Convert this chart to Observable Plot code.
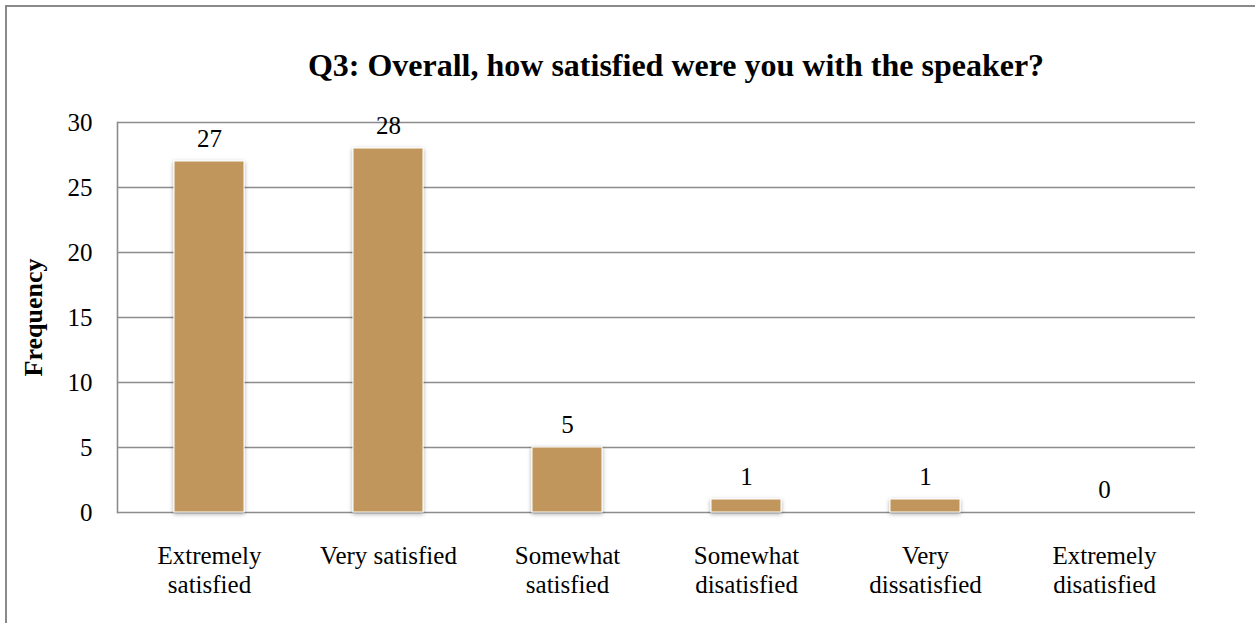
<!DOCTYPE html>
<html><head><meta charset="utf-8">
<script src="https://cdn.jsdelivr.net/npm/d3@7"></script>
<script src="https://cdn.jsdelivr.net/npm/@observablehq/plot@0.6"></script>
<style>
body{margin:0;background:#fff;}
#wrap{position:relative;width:1255px;height:623px;overflow:hidden;background:#fff;font-family:"Liberation Serif","Times New Roman",serif;}
#border{position:absolute;left:5px;top:5px;width:1300px;height:700px;border:2px solid #8a8a8a;box-sizing:border-box;}
#title{position:absolute;top:49px;left:676px;transform:translateX(-50%);white-space:nowrap;font-weight:bold;font-size:32px;line-height:32px;color:#000;}
#chart{position:absolute;left:0;top:0;}
</style></head><body>
<div id="wrap"><div id="border"></div><div id="title"></div><div id="chart"></div></div>
<script>
const titleText = "Q3: Overall, how satisfied were you with the speaker?";
const yLabel = "Frequency";
const categories = ["Extremely\nsatisfied", "Very satisfied", "Somewhat\nsatisfied", "Somewhat\ndisatisfied", "Very\ndissatisfied", "Extremely\ndisatisfied"];
const frequencies = [27, 28, 5, 1, 1, 0];
const yTicks = [0, 5, 10, 15, 20, 25, 30];

document.getElementById("title").textContent = titleText;
const data = categories.map((c, i) => ({category: c, value: frequencies[i]}));

const chart = Plot.plot({
  width: 1255, height: 623,
  marginLeft: 117, marginRight: 60, marginTop: 122, marginBottom: 111,
  style: {fontFamily: "'Liberation Serif', 'Times New Roman', serif", fontSize: "25px", color: "#000", background: "transparent", overflow: "visible"},
  x: {domain: categories, paddingInner: 0.61, paddingOuter: 0.305, label: null},
  y: {domain: [0, 30], label: null},
  marks: [
    Plot.gridY(yTicks, {stroke: "#8c8c8c", strokeOpacity: 1, strokeWidth: 1.6}),
    Plot.frame({anchor: "left", stroke: "#8c8c8c", strokeWidth: 1.6}),
    Plot.axisY(yTicks, {tickSize: 0, tickPadding: 25, fontSize: 25, label: null}),
    Plot.axisX({tickSize: 0, tickPadding: 31, fontSize: 25, lineHeight: 1.15, label: null, tickFormat: d => d}),
    Plot.barY(data, {x: "category", y: "value", fill: "#C0965B", stroke: "#fff", strokeWidth: 1}),
    Plot.text(data, {x: "category", y: "value", text: d => String(d.value), dy: -15, lineAnchor: "bottom", fontSize: 25}),
    Plot.text([yLabel], {text: d => d, frameAnchor: "left", textAnchor: "middle", dx: -84, rotate: -90, fontWeight: "bold", fontSize: 26, lineAnchor: "middle"})
  ]
});

const ns = "http://www.w3.org/2000/svg";
const defs = document.createElementNS(ns, "defs");
const filt = document.createElementNS(ns, "filter");
filt.setAttribute("id", "barShadow");
filt.setAttribute("x", "-10%"); filt.setAttribute("y", "-10%");
filt.setAttribute("width", "120%"); filt.setAttribute("height", "120%");
const ds = document.createElementNS(ns, "feDropShadow");
ds.setAttribute("dx", "0"); ds.setAttribute("dy", "1.5");
ds.setAttribute("stdDeviation", "2.2");
ds.setAttribute("flood-color", "#000"); ds.setAttribute("flood-opacity", "0.35");
filt.appendChild(ds); defs.appendChild(filt);
chart.insertBefore(defs, chart.firstChild);
const barG = chart.querySelector('g[aria-label="bar"]');
if (barG) barG.setAttribute("filter", "url(#barShadow)");

document.getElementById("chart").appendChild(chart);
</script>
</body></html>
